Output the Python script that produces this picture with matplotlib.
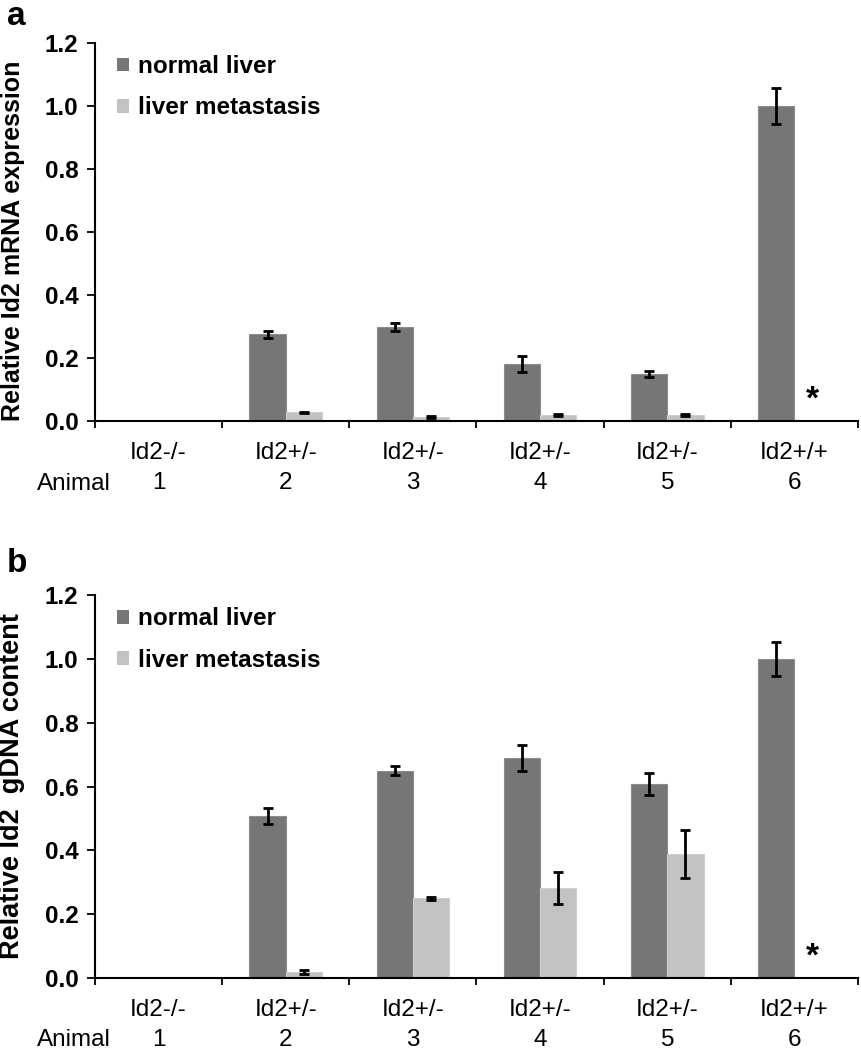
import matplotlib
matplotlib.use("Agg")
import matplotlib.pyplot as plt
import numpy as np

plt.rcParams['font.family'] = ['Liberation Sans', 'DejaVu Sans']

genotypes = ["Id2-/-", "Id2+/-", "Id2+/-", "Id2+/-", "Id2+/-", "Id2+/+"]
animals = ["1", "2", "3", "4", "5", "6"]
series_names = ["normal liver", "liver metastasis"]

# Panel a: relative Id2 mRNA expression
mrna_normal = [0.0, 0.275, 0.298, 0.180, 0.150, 1.000]
mrna_normal_err = [0.0, 0.012, 0.013, 0.025, 0.010, 0.057]
mrna_meta = [0.0, 0.027, 0.013, 0.020, 0.019, 0.0]
mrna_meta_err = [0.0, 0.003, 0.003, 0.003, 0.003, 0.0]

# Panel b: relative Id2 gDNA content
gdna_normal = [0.0, 0.508, 0.650, 0.689, 0.608, 1.000]
gdna_normal_err = [0.0, 0.026, 0.013, 0.042, 0.034, 0.054]
gdna_meta = [0.0, 0.018, 0.250, 0.281, 0.389, 0.0]
gdna_meta_err = [0.0, 0.006, 0.005, 0.050, 0.075, 0.0]

star_value = 0.065

DARK = "#767676"
LIGHT = "#c2c2c2"

fig = plt.figure(figsize=(8.61, 10.5), dpi=100)

panels = [
    dict(pos=[95/861, 1-421/1050, 763/861, 378.3/1050], letter="a", letter_y=1-1/1050,
         ylabel="Relative Id2 mRNA expression", ylab_size=18, ylab_y=0.475,
         normal=mrna_normal, nerr=mrna_normal_err, meta=mrna_meta, merr=mrna_meta_err),
    dict(pos=[95/861, 1-978/1050, 763/861, 383/1050], letter="b", letter_y=1-548/1050,
         ylabel="Relative Id2  gDNA content", ylab_size=19.5, ylab_y=0.50,
         normal=gdna_normal, nerr=gdna_normal_err, meta=gdna_meta, merr=gdna_meta_err),
]

x = np.arange(len(genotypes))
w = 0.286

for p in panels:
    ax = fig.add_axes(p["pos"])
    ax.bar(x - w/2, p["normal"], w, color=DARK, edgecolor="#8c8c8c", linewidth=0.8,
           label=series_names[0])
    ax.bar(x + w/2, p["meta"], w, color=LIGHT, edgecolor="#cfcfcf", linewidth=0.8,
           label=series_names[1])
    ne = np.array(p["nerr"]); me = np.array(p["merr"])
    mask_n = ne > 0
    mask_m = me > 0
    ax.errorbar((x - w/2)[mask_n], np.array(p["normal"])[mask_n], yerr=ne[mask_n],
                fmt="none", ecolor="black", elinewidth=2, capsize=3.5, capthick=2)
    ax.errorbar((x + w/2)[mask_m], np.array(p["meta"])[mask_m], yerr=me[mask_m],
                fmt="none", ecolor="black", elinewidth=2, capsize=3.5, capthick=2)
    ax.text(x[-1] + w/2, star_value, "*", ha="center", va="center",
            fontsize=24, fontweight="bold")

    ax.set_xlim(-0.5, len(x) - 0.5)
    ax.set_ylim(0, 1.2)
    ax.set_yticks(np.arange(0, 1.21, 0.2))
    ax.set_yticklabels([f"{v:.1f}" for v in np.arange(0, 1.21, 0.2)],
                       fontsize=17.5, fontweight="bold")
    ax.set_xticks(np.arange(-0.5, len(x), 1.0))
    ax.set_xticklabels([])
    ax.set_xticks(x, minor=True)
    ax.set_xticklabels([f"{g}\n{a}" for g, a in zip(genotypes, animals)], minor=True,
                       fontsize=17.5, linespacing=1.5)
    ax.tick_params(axis="x", which="minor", length=0, pad=15)
    ax.tick_params(axis="x", which="major", length=5, width=1.3, direction="out")
    ax.tick_params(axis="y", length=6, width=1.3, direction="out", pad=6)
    for s in ["top", "right"]:
        ax.spines[s].set_visible(False)
    ax.spines["left"].set_linewidth(1.5)
    ax.spines["bottom"].set_linewidth(1.5)

    ax.set_ylabel(p["ylabel"], fontsize=p["ylab_size"], fontweight="bold")
    ax.yaxis.set_label_coords(-0.092, p["ylab_y"])

    ax.annotate("Animal", xy=(-0.028, 0), xycoords="axes fraction",
                xytext=(0, -62.5 * 0.72), textcoords="offset points",
                fontsize=17.5, ha="center", va="center")

    leg = ax.legend(loc="upper left", bbox_to_anchor=(0.0, 1.025), frameon=False,
                    prop=dict(weight="bold", size=17.5),
                    handlelength=0.5, handleheight=0.5, handletextpad=0.35,
                    labelspacing=0.75)
    for h in leg.legend_handles:
        h.set_edgecolor("none")

    fig.text(0.008, p["letter_y"], p["letter"], fontsize=24, fontweight="bold",
             ha="left", va="top")

fig.savefig("out.png", dpi=100)
